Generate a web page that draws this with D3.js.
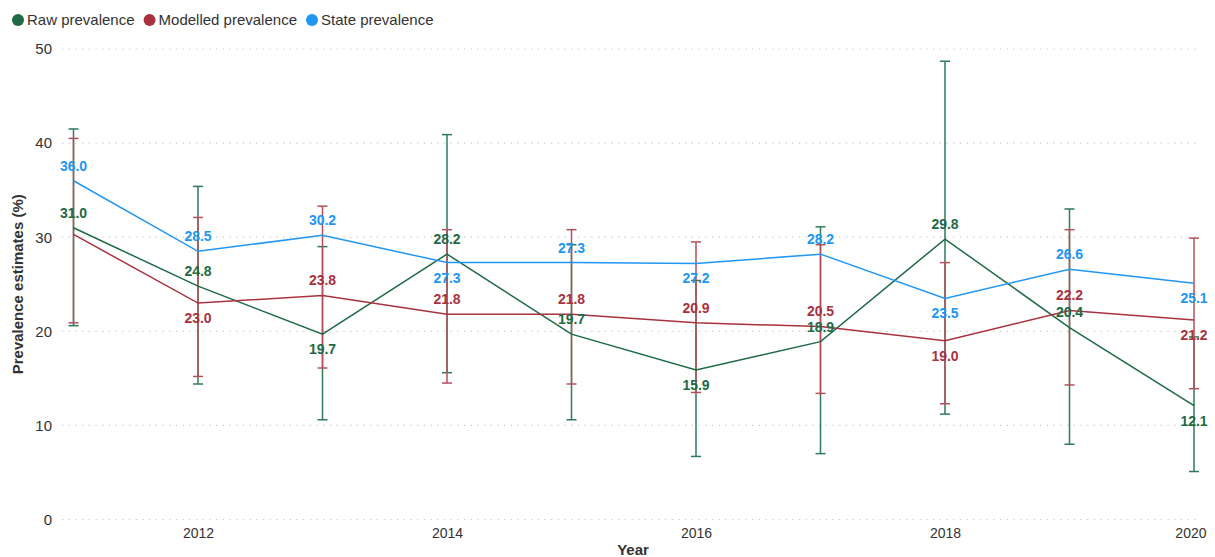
<!DOCTYPE html>
<html>
<head>
<meta charset="utf-8">
<script src="https://cdn.jsdelivr.net/npm/d3@7"></script>
<style>
  body { margin: 0; background: #fff; }
  text { font-family: "Liberation Sans", Arial, sans-serif; }
</style>
</head>
<body>
<div id="chart"></div>
<script>
// Data
const years = [2011, 2012, 2013, 2014, 2015, 2016, 2017, 2018, 2019, 2020];
const rawValues = [31.0, 24.8, 19.7, 28.2, 19.7, 15.9, 18.9, 29.8, 20.4, 12.1];
const rawLower = [20.6, 14.4, 10.6, 15.6, 10.6, 6.7, 7.0, 11.2, 8.0, 5.1];
const rawUpper = [41.5, 35.4, 29.0, 40.9, 29.2, 25.4, 31.1, 48.7, 33.0, 19.4];
const modelValues = [30.3, 23.0, 23.8, 21.8, 21.8, 20.9, 20.5, 19.0, 22.2, 21.2];
const modelLower = [20.9, 15.2, 16.1, 14.5, 14.4, 13.5, 13.4, 12.3, 14.3, 13.9];
const modelUpper = [40.5, 32.1, 33.3, 30.8, 30.8, 29.5, 29.2, 27.3, 30.8, 29.9];
const stateValues = [36.0, 28.5, 30.2, 27.3, 27.3, 27.2, 28.2, 23.5, 26.6, 25.1];
const yTicks = [0, 10, 20, 30, 40, 50];
const xTicks = [2012, 2014, 2016, 2018, 2020];

// label placement: 1 = above the point, -1 = below, 0 = hidden
const rawSide = [1, 1, -1, 1, 1, -1, 1, 1, 1, -1];
const modelSide = [0, -1, 1, 1, 1, 1, 1, -1, 1, -1];
const stateSide = [1, 1, 1, -1, 1, -1, 1, -1, 1, -1];

const series = [
  { name: "Raw prevalence", color: "#1d6a45", bar: "#2f7a58", values: rawValues, lo: rawLower, hi: rawUpper, side: rawSide },
  { name: "Modelled prevalence", color: "#a8323f", bar: "#b4505b", values: modelValues, lo: modelLower, hi: modelUpper, side: modelSide },
  { name: "State prevalence", color: "#2196f3", values: stateValues, side: stateSide }
];

const width = 1215;
const height = 557;

const svg = d3.select("#chart")
  .append("svg")
  .attr("width", width)
  .attr("height", height);

const x = d3.scaleLinear().domain([2011, 2020]).range([73.5, 1194]);
const y = d3.scaleLinear().domain([0, 50]).range([519.5, 49]);

// gridlines
svg.append("g")
  .selectAll("line")
  .data(yTicks)
  .enter()
  .append("line")
  .attr("x1", 62)
  .attr("x2", 1200)
  .attr("y1", d => y(d))
  .attr("y2", d => y(d))
  .attr("stroke", "#c8c8c8")
  .attr("stroke-width", 1.2)
  .attr("stroke-dasharray", "1.2,5.5");

// y axis
const yAxis = svg.append("g")
  .attr("transform", "translate(52,0)")
  .call(d3.axisLeft(y).tickValues(yTicks).tickSize(0).tickPadding(0));
yAxis.select(".domain").remove();
yAxis.selectAll("text")
  .attr("font-size", 15)
  .attr("fill", "#333");

// x axis
const xAxis = svg.append("g")
  .attr("transform", "translate(0,528)")
  .call(d3.axisBottom(x).tickValues(xTicks).tickFormat(d3.format("d")).tickSize(0).tickPadding(0));
xAxis.select(".domain").remove();
xAxis.selectAll("text")
  .attr("font-size", 14)
  .attr("fill", "#333")
  .attr("text-anchor", (d, i) => i === xTicks.length - 1 ? "end" : "middle")
  .attr("dx", (d, i) => i === xTicks.length - 1 ? 12 : 0);

// axis titles
svg.append("text")
  .attr("transform", `translate(23,${(y(0) + y(50)) / 2}) rotate(-90)`)
  .attr("text-anchor", "middle")
  .attr("font-size", 15)
  .attr("font-weight", "bold")
  .attr("fill", "#333")
  .text("Prevalence estimates (%)");

svg.append("text")
  .attr("x", 633)
  .attr("y", 555)
  .attr("text-anchor", "middle")
  .attr("font-size", 15)
  .attr("font-weight", "bold")
  .attr("fill", "#333")
  .text("Year");

// error bars
const capW = 5;
series.filter(s => s.lo).forEach(s => {
  const g = svg.append("g").attr("stroke", s.bar).attr("stroke-width", 1.5).attr("fill", "none");
  years.forEach((yr, i) => {
    const cx = x(yr);
    g.append("line").attr("x1", cx).attr("x2", cx).attr("y1", y(s.lo[i])).attr("y2", y(s.hi[i]));
    g.append("line").attr("x1", cx - capW).attr("x2", cx + capW).attr("y1", y(s.lo[i])).attr("y2", y(s.lo[i]));
    g.append("line").attr("x1", cx - capW).attr("x2", cx + capW).attr("y1", y(s.hi[i])).attr("y2", y(s.hi[i]));
  });
});

// lines
const line = d3.line()
  .x((d, i) => x(years[i]))
  .y(d => y(d));

series.forEach(s => {
  svg.append("path")
    .datum(s.values)
    .attr("d", line)
    .attr("fill", "none")
    .attr("stroke", s.color)
    .attr("stroke-width", 1.5);
});

// value labels
series.forEach(s => {
  const pts = s.values
    .map((v, i) => ({ v: v, year: years[i], side: s.side[i] }))
    .filter(p => p.side !== 0);
  svg.append("g")
    .selectAll("text")
    .data(pts)
    .enter()
    .append("text")
    .attr("x", p => x(p.year))
    .attr("y", p => y(p.v) - p.side * 15)
    .attr("dy", "0.35em")
    .attr("text-anchor", "middle")
    .attr("font-size", 14)
    .attr("font-weight", "bold")
    .attr("fill", s.color)
    .text(p => p.v.toFixed(1));
});

// legend
const legend = svg.append("g").attr("transform", "translate(12,20)");
let lx = 0;
series.forEach(s => {
  const item = legend.append("g").attr("transform", `translate(${lx},0)`);
  item.append("circle").attr("cx", 6).attr("cy", 0).attr("r", 6).attr("fill", s.color);
  const t = item.append("text")
    .attr("x", 15)
    .attr("y", 0)
    .attr("dy", "0.35em")
    .attr("font-size", 15)
    .attr("fill", "#333")
    .text(s.name);
  lx += 15 + t.node().getComputedTextLength() + 9;
});
</script>
</body>
</html>
